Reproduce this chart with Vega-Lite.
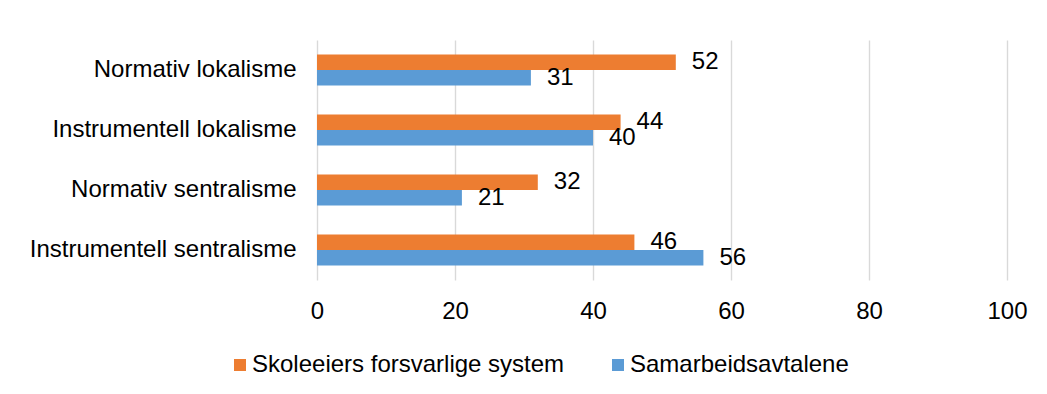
{
  "$schema": "https://vega.github.io/schema/vega-lite/v6.json",
  "width": 690,
  "height": 240,
  "autosize": {"type": "none"},
  "padding": {"left": 317, "top": 40, "right": 40, "bottom": 114},
  "background": "white",
  "config": {
    "view": {"stroke": null},
    "font": "Liberation Sans",
    "text": {"font": "Liberation Sans"}
  },
  "data": {
    "values": [
      {"kategori": "Normativ lokalisme", "serie": "Skoleeiers forsvarlige system", "verdi": 52},
      {"kategori": "Normativ lokalisme", "serie": "Samarbeidsavtalene", "verdi": 31},
      {"kategori": "Instrumentell lokalisme", "serie": "Skoleeiers forsvarlige system", "verdi": 44},
      {"kategori": "Instrumentell lokalisme", "serie": "Samarbeidsavtalene", "verdi": 40},
      {"kategori": "Normativ sentralisme", "serie": "Skoleeiers forsvarlige system", "verdi": 32},
      {"kategori": "Normativ sentralisme", "serie": "Samarbeidsavtalene", "verdi": 21},
      {"kategori": "Instrumentell sentralisme", "serie": "Skoleeiers forsvarlige system", "verdi": 46},
      {"kategori": "Instrumentell sentralisme", "serie": "Samarbeidsavtalene", "verdi": 56}
    ]
  },
  "encoding": {
    "y": {
      "field": "kategori",
      "type": "nominal",
      "sort": ["Normativ lokalisme", "Instrumentell lokalisme", "Normativ sentralisme", "Instrumentell sentralisme"],
      "title": null,
      "scale": {"paddingInner": 0.48, "paddingOuter": 0.24},
      "axis": {
        "labelFontSize": 24,
        "labelColor": "#000000",
        "labelPadding": 21,
        "labelLimit": 400,
        "ticks": false,
        "domain": false,
        "grid": false
      }
    },
    "yOffset": {
      "field": "serie",
      "type": "nominal",
      "sort": ["Skoleeiers forsvarlige system", "Samarbeidsavtalene"],
      "scale": {"paddingInner": 0, "paddingOuter": 0}
    },
    "x": {
      "field": "verdi",
      "type": "quantitative",
      "scale": {"domain": [0, 100]},
      "axis": {
        "values": [0, 20, 40, 60, 80, 100],
        "grid": true,
        "gridColor": "#d9d9d9",
        "gridWidth": 1.4,
        "domain": false,
        "ticks": false,
        "labelFlush": false,
        "labelFontSize": 24,
        "labelColor": "#000000",
        "labelPadding": 19,
        "title": null
      }
    }
  },
  "layer": [
    {
      "mark": {"type": "bar"},
      "encoding": {
        "color": {
          "field": "serie",
          "type": "nominal",
          "scale": {
            "domain": ["Skoleeiers forsvarlige system", "Samarbeidsavtalene"],
            "range": ["#ED7D31", "#5B9BD5"]
          },
          "legend": {
            "orient": "none",
            "legendX": -89,
            "legendY": 313,
            "direction": "horizontal",
            "title": null,
            "symbolType": "square",
            "symbolSize": 144,
            "symbolStrokeWidth": 0,
            "labelFontSize": 24,
            "labelColor": "#000000",
            "labelOffset": 0,
            "columnPadding": 41,
            "labelLimit": 500
          }
        }
      }
    },
    {
      "mark": {"type": "text", "align": "left", "baseline": "middle", "dx": 16, "fontSize": 24, "color": "#000000"},
      "encoding": {
        "text": {"field": "verdi", "type": "quantitative"}
      }
    }
  ]
}
